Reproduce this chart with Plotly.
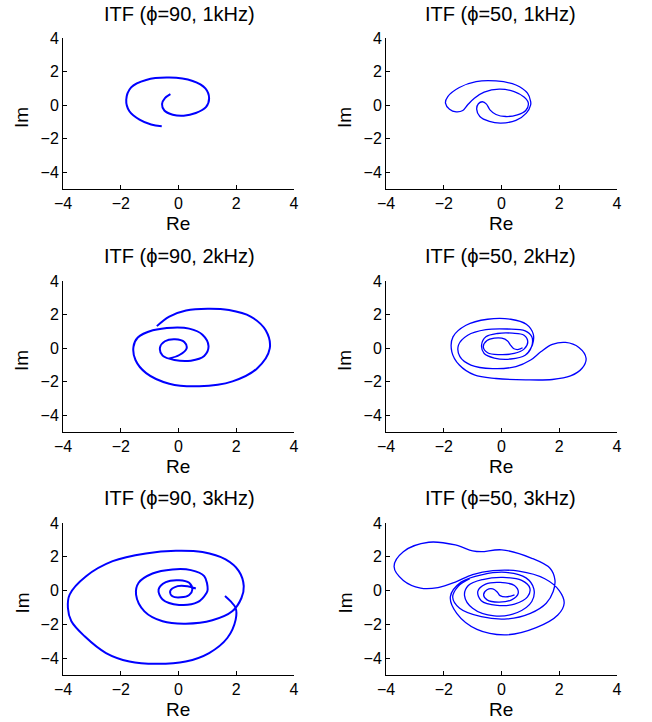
import plotly.graph_objects as go

FONT = "Liberation Sans, Arial, sans-serif"

titles = ["ITF (ϕ=90, 1kHz)", "ITF (ϕ=50, 1kHz)",
          "ITF (ϕ=90, 2kHz)", "ITF (ϕ=50, 2kHz)",
          "ITF (ϕ=90, 3kHz)", "ITF (ϕ=50, 3kHz)"]
x_label = "Re"
y_label = "Im"
x_ticks = [-4, -2, 0, 2, 4]
y_ticks = [-4, -2, 0, 2, 4]
x_range = [-4, 4]
y_range = [-5, 4]

re_90_1k = [-0.28, -0.47, -0.57, -0.49, -0.20, 0.18, 0.60, 0.95, 1.06, 0.93, 0.49, -0.32,
            -1.12, -1.64, -1.81, -1.70, -1.35, -0.95, -0.58]
im_90_1k = [0.65, 0.41, 0.06, -0.32, -0.57, -0.63, -0.47, -0.12, 0.41, 1.00, 1.44, 1.64,
            1.50, 1.06, 0.32, -0.37, -0.87, -1.16, -1.26]

re_50_1k = [1.01, 0.90, 0.50, -0.19, -0.88, -1.46, -1.86, -1.94, -1.80, -1.57, -1.34, -1.17,
            -0.94, -0.60, -0.08, 0.44, 0.78, 0.93, 0.84, 0.55, 0.15, -0.19, -0.40, -0.52,
            -0.66, -0.80, -0.86, -0.75, -0.42, -0.02, 0.50, 0.86, 1.01, 1.01]
im_50_1k = [0.21, 0.71, 1.20, 1.44, 1.40, 1.05, 0.51, 0.12, -0.24, -0.40, -0.32, 0.02,
            0.41, 0.77, 0.95, 0.81, 0.48, 0.12, -0.32, -0.58, -0.68, -0.56, -0.28, 0.06,
            0.20, 0.08, -0.24, -0.68, -0.97, -1.07, -0.91, -0.48, 0.02, 0.21]

re_90_2k = [-0.32, 0.03, 0.28, 0.20, -0.12, -0.47, -0.64, -0.55, -0.14, 0.43, 0.89, 1.04,
            0.83, 0.37, -0.20, -0.89, -1.41, -1.56, -1.49, -1.12, -0.32, 0.72, 1.87, 2.73,
            3.16, 3.02, 2.50, 1.75, 1.01, 0.26, -0.32, -0.75]
im_90_2k = [-0.61, -0.41, -0.02, 0.37, 0.53, 0.41, 0.04, -0.45, -0.71, -0.75, -0.47, 0.12,
            0.80, 1.16, 1.22, 1.06, 0.63, 0.08, -0.71, -1.49, -2.12, -2.27, -1.98, -1.20,
            -0.02, 1.06, 1.88, 2.27, 2.35, 2.24, 1.88, 1.31]

re_50_2k = [0.73, 0.59, 0.43, 0.31, 0.21, 0.01, -0.25, -0.50, -0.63, -0.48, -0.08, 0.44,
            0.78, 0.91, 0.78, 0.38, -0.14, -0.54, -0.69, -0.60, -0.25, 0.32, 0.82, 1.04,
            1.05, 0.82, 0.21, -0.54, -1.17, -1.49, -1.44, -1.06, -0.31, 0.50, 1.01, 1.36,
            1.76, 2.22, 2.68, 2.93, 2.79, 2.39, 1.76, 0.84, -0.19, -0.94, -1.46, -1.72,
            -1.68, -1.23, -0.48, 0.32, 0.86, 1.10, 1.07, 0.93]
im_50_2k = [0.02, -0.08, -0.04, 0.18, 0.43, 0.59, 0.59, 0.45, 0.08, -0.28, -0.39, -0.32,
            -0.06, 0.37, 0.77, 0.89, 0.87, 0.67, 0.18, -0.32, -0.59, -0.65, -0.43, 0.08,
            0.67, 1.03, 1.14, 1.10, 0.77, 0.18, -0.51, -1.01, -1.22, -1.10, -0.71, -0.22,
            0.22, 0.34, 0.04, -0.61, -1.20, -1.66, -1.87, -1.89, -1.81, -1.60, -1.01, -0.22,
            0.67, 1.36, 1.72, 1.72, 1.42, 0.83, 0.18, -0.22]

re_90_3k = [0.60, 0.31, -0.03, -0.29, -0.21, 0.08, 0.37, 0.48, 0.37, 0.02, -0.44, -0.69,
            -0.55, 0.02, 0.66, 0.97, 1.01, 0.89, 0.43, -0.21, -0.90, -1.38, -1.47, -1.18,
            -0.55, 0.25, 1.17, 1.86, 2.18, 2.26, 2.09, 1.63, 0.83, -0.09, -1.13, -2.28,
            -3.20, -3.77, -3.83, -3.71, -3.25, -2.51, -1.70, -0.78, 0.25, 1.06, 1.69, 1.98,
            1.98, 1.80, 1.61]
im_90_3k = [0.12, 0.26, 0.26, -0.04, -0.34, -0.40, -0.26, 0.06, 0.46, 0.61, 0.50, 0.06,
            -0.53, -0.85, -0.69, -0.14, 0.06, 0.85, 1.21, 1.25, 1.01, 0.46, -0.24, -1.23,
            -1.82, -1.96, -1.76, -1.23, -0.44, 0.26, 1.15, 1.84, 2.28, 2.36, 2.20, 1.74,
            0.85, -0.24, -1.03, -1.82, -2.71, -3.70, -4.20, -4.34, -4.20, -3.70, -2.81, -1.72,
            -1.03, -0.63, -0.32]

re_50_3k = [0.45, 0.15, -0.05, -0.15, -0.30, -0.50, -0.62, -0.50, -0.10, 0.35, 0.58, 0.45, -0.05,
            -0.55, -0.82, -0.70, -0.15, 0.45, 0.90, 0.98, 0.70, 0.05,
            -0.65, -1.15, -1.28, -1.00, -0.25, 0.55, 1.05, 1.12, 0.85, 0.15, -0.65,
            -1.40, -1.77, -1.55, -0.85, 0.18, 1.20, 1.95, 2.17, 2.00, 1.50, 0.60, -0.30, -1.00,
            -1.60, -2.20, -2.80, -3.40, -3.72, -3.40, -2.52, -1.60, -1.00, -0.70, 0.01, 1.05,
            1.68, 1.85, 1.79, 1.55, 1.00, 0.20, -0.70, -1.45, -1.69, -1.50, -1.10]
im_50_3k = [-0.25, -0.38, -0.30, -0.08, 0.10, 0.05, -0.25, -0.55, -0.68, -0.55, -0.15, 0.30, 0.48,
            0.38, -0.05, -0.60, -0.88, -0.80, -0.38, 0.15, 0.60, 0.78,
            0.65, 0.30, -0.30, -1.05, -1.50, -1.30, -0.65, 0.10, 0.75, 1.08, 0.95,
            0.50, -0.36, -1.35, -2.30, -2.62, -2.20, -1.45, -0.75, 0.00, 0.70, 1.15, 1.18, 0.95,
            0.50, 0.18, 0.15, 0.60, 1.42, 2.30, 2.86, 2.70, 2.35, 2.30, 2.41, 1.91,
            1.32, 0.63, -0.06, -0.75, -1.35, -1.68, -1.55, -1.05, -0.40, 0.25, 0.70]

series = [(re_90_1k, im_90_1k), (re_50_1k, im_50_1k),
          (re_90_2k, im_90_2k), (re_50_2k, im_50_2k),
          (re_90_3k, im_90_3k), (re_50_3k, im_50_3k)]
widths = [2.0, 1.3, 2.0, 1.3, 2.0, 1.3]

W, H = 652, 722
col_px = [(63, 294), (386, 617)]
row_px = [(38, 189), (281, 432), (523, 675)]
title_y_px = [14, 256, 498]
title_x_px = [179, 500]


def px(v):
    return v / W


def py(v):
    return 1 - v / H


fig = go.Figure()
annotations = []
layout = dict(
    width=W, height=H,
    margin=dict(l=0, r=0, t=0, b=0, autoexpand=False),
    paper_bgcolor="white", plot_bgcolor="white",
    showlegend=False,
    font=dict(family=FONT, color="black"),
)

for i, (re, im) in enumerate(series):
    r, c = divmod(i, 2)
    n = i + 1
    xa = "x" if n == 1 else f"x{n}"
    ya = "y" if n == 1 else f"y{n}"
    fig.add_trace(go.Scatter(x=re, y=im, mode="lines", xaxis=xa, yaxis=ya,
                             line=dict(color="#0000ff", width=widths[i], shape="spline", smoothing=1.0),
                             hoverinfo="skip"))
    x0, x1 = col_px[c]
    y0, y1 = row_px[r]
    common = dict(showgrid=False, zeroline=False, showline=True, linecolor="black",
                  linewidth=1, ticks="inside", ticklen=4, tickcolor="black", tickwidth=1,
                  tickfont=dict(family=FONT, size=16, color="black"), mirror=False,
                  automargin=False, fixedrange=True)
    layout["xaxis" if n == 1 else f"xaxis{n}"] = dict(
        domain=[px(x0), px(x1)], range=x_range, tickvals=x_ticks, anchor=ya, **common)
    layout["yaxis" if n == 1 else f"yaxis{n}"] = dict(
        domain=[py(y1), py(y0)], range=y_range, tickvals=y_ticks, anchor=xa, **common)
    annotations.append(dict(
        text=titles[i], xref="paper", yref="paper",
        x=px(title_x_px[c]), y=py(title_y_px[r]),
        xanchor="center", yanchor="middle", showarrow=False,
        font=dict(family=FONT, size=20, color="black")))
    annotations.append(dict(
        text=x_label, xref="paper", yref="paper",
        x=px((x0 + x1) / 2), y=py(y1 + 34),
        xanchor="center", yanchor="middle", showarrow=False,
        font=dict(family=FONT, size=19, color="black")))
    annotations.append(dict(
        text=y_label, xref="paper", yref="paper", textangle=-90,
        x=px(x0 - 41.5), y=py((y0 + y1) / 2 + 4),
        xanchor="center", yanchor="middle", showarrow=False,
        font=dict(family=FONT, size=19, color="black")))

layout["annotations"] = annotations
fig.update_layout(**layout)
# remove the browser's default body margin so the figure fills the window exactly
fig.write_html("out.html", config={"displayModeBar": False},
               post_script="document.body.style.margin='0';")
